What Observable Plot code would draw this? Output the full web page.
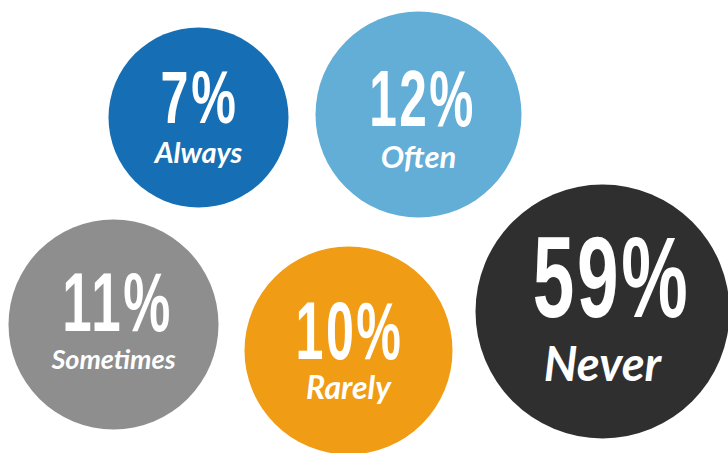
<!DOCTYPE html>
<html>
<head>
<meta charset="utf-8">
<script src="https://cdn.jsdelivr.net/npm/d3@7"></script>
<script src="https://cdn.jsdelivr.net/npm/@observablehq/plot@0.6"></script>
<style>
  html, body { margin: 0; padding: 0; background: #ffffff; }
  #chart svg { display: block; }
</style>
</head>
<body>
<div id="chart"></div>
<script>
// ---- data ----
const categories = ["Always", "Often", "Sometimes", "Rarely", "Never"];
const values = [7, 12, 11, 10, 59];
const colors = ["#166fb4", "#62aed7", "#8e8e8e", "#f09c14", "#2f2f2f"];

// ---- bubble layout (scale units) ----
const layoutX = [198, 418, 113, 348, 602];
const layoutY = [117, 114, 324, 350, 311];
const layoutR = [90, 103, 105, 104, 127];
const numX = [199, 422, 117, 349, 611];
const numBaseline = [122, 125, 330, 358, 316];
const labBaseline = [162, 167, 368, 398, 380];
const numSize = [75, 80, 84, 81, 115];
const numStretch = [0.67, 0.62, 0.63, 0.62, 0.65];
const labSize = [29, 31, 27, 32, 47];

const rows = categories.map((c, i) => ({
  category: c, value: values[i],
  x: layoutX[i], y: layoutY[i], r: layoutR[i],
  nx: numX[i], ny: numBaseline[i], ly: labBaseline[i],
  ns: numSize[i], st: numStretch[i], ls: labSize[i]
}));

const numberMarks = rows.map((d, i) => Plot.text([d], {
  x: "nx", y: "ny", text: r => r.value + "%",
  fill: "white", fontSize: d.ns, fontWeight: 700,
  fontFamily: "'Liberation Sans', Arial, sans-serif",
  textAnchor: "middle", lineAnchor: "bottom", className: "num num" + i
}));
const labelMarks = rows.map(d => Plot.text([d], {
  x: "x", y: "ly", text: "category",
  fill: "white", fontSize: d.ls, fontWeight: 700, fontStyle: "italic",
  fontFamily: "Lato, 'Open Sans', sans-serif",
  textAnchor: "middle", lineAnchor: "bottom"
}));

const chart = Plot.plot({
  width: 728, height: 453,
  margin: 0,
  x: {domain: [0, 728], range: [0, 728], axis: null},
  y: {domain: [0, 453], range: [0, 453], axis: null},
  r: {type: "identity"},
  color: {domain: categories, range: colors},
  style: {background: "white", overflow: "hidden"},
  marks: [
    Plot.dot(rows, {x: "x", y: "y", r: "r", fill: "category", stroke: null}),
    ...numberMarks,
    ...labelMarks
  ]
});
document.getElementById("chart").appendChild(chart);

// condense the big numbers horizontally around their anchor, with a little tracking
rows.forEach((d, i) => {
  d3.select(chart).selectAll("g.num" + i + " text").each(function() {
    const t = this.getAttribute("transform") || "";
    this.setAttribute("transform", t + ` scale(${d.st},1)`);
    this.style.letterSpacing = "4px";
  });
});
</script>
</body>
</html>
